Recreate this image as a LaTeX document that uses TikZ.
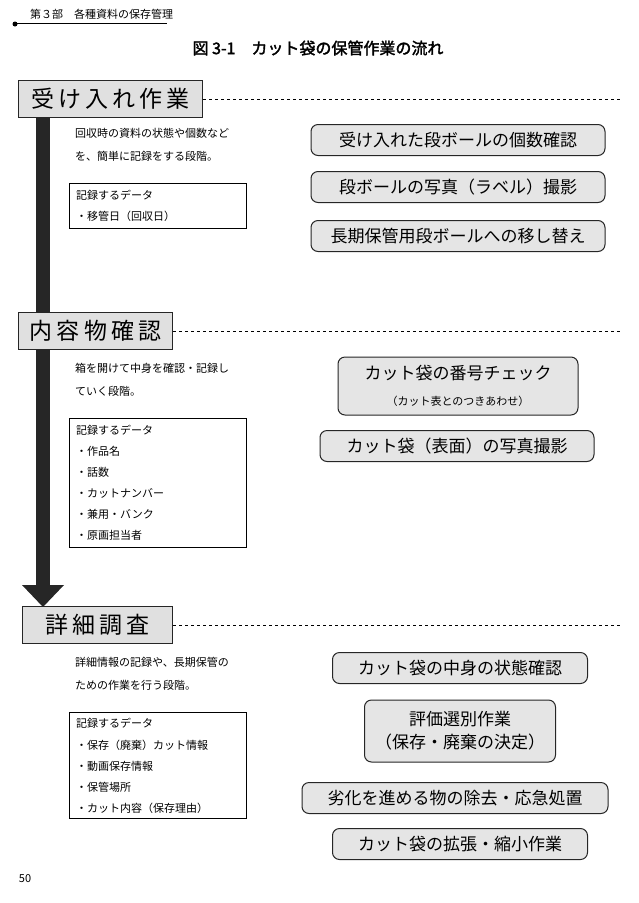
\documentclass[tikz,border=0pt]{standalone}
\usepackage{fontspec}
\setmainfont{Noto Sans CJK JP}
\newfontfamily\jpbold{Noto Sans CJK JP}[FakeBold=2]
\usetikzlibrary{positioning}
\newcommand{\stsp}{\hspace{0.18em}}
\begin{document}
\begin{tikzpicture}[x=1pt,y=-1pt]
\tikzstyle{every node}+=[inner sep=0pt]
\tikzstyle{stage}=[draw=black!85,line width=1.2pt,fill=black!12,font=\fontsize{23}{23}\selectfont,minimum height=37pt,anchor=west]
\tikzstyle{pill}=[draw=black!85,line width=1pt,fill=black!10,rounded corners=7pt,font=\fontsize{17}{17}\selectfont,minimum height=31pt]
\tikzstyle{databox}=[draw=black,line width=0.6pt,minimum width=177pt,anchor=north west]
\tikzstyle{desc}=[font=\fontsize{11}{11}\selectfont,anchor=west]
\tikzstyle{line}=[font=\fontsize{11}{11}\selectfont,anchor=west]
\useasboundingbox (0,0) rectangle (638,903);
% header
\node[font=\fontsize{11}{11}\selectfont,anchor=west] (head) at (30,14) {第３部　各種資料の保存管理};
\draw[line width=0.6pt] (15,23) -- (167,23);
\fill (15,24) circle (2.5);
\node[font=\jpbold\fontsize{16}{16}\selectfont] (title) at (318,48) {図 3-1　カット袋の保管作業の流れ};
% flow bar
\fill[black!85] (36,117) rectangle (50,585);
\fill[black!85] (22,585) -- (64,585) -- (43,607) -- cycle;
% stages
\node[stage,minimum width=184pt] (s1) at (18,99) {受\stsp け\stsp 入\stsp れ\stsp 作\stsp 業};
\node[stage,minimum width=154pt] (s2) at (18,331) {内\stsp 容\stsp 物\stsp 確\stsp 認};
\node[stage,minimum width=150pt] (s3) at (22,625) {詳\stsp 細\stsp 調\stsp 査};
\coordinate (e1) at (620,99);
\coordinate (e2) at (620,331);
\coordinate (e3) at (620,625);
\draw[dashed,line width=0.8pt] (s1.east) -- (e1);
\draw[dashed,line width=0.8pt] (s2.east) -- (e2);
\draw[dashed,line width=0.8pt] (s3.east) -- (e3);
% stage 1
\node[desc] (d1a) at (75,133) {回収時の資料の状態や個数など};
\node[desc] (d1b) at (75,156) {を、簡単に記録をする段階。};
\node[databox,minimum height=45pt] (b1) at (69,183) {};
\node[line] at (76,195) {記録するデータ};
\node[line] at (76,216) {・移管日（回収日）};
\node[pill,minimum width=294pt] (p1) at (458,140) {受け入れた段ボールの個数確認};
\node[pill,minimum width=294pt] (p2) at (458,187) {段ボールの写真（ラベル）撮影};
\node[pill,minimum width=294pt] (p3) at (458,236) {長期保管用段ボールへの移し替え};
% stage 2
\node[desc] (d2a) at (75,368) {箱を開けて中身を確認・記録し};
\node[desc] (d2b) at (75,391) {ていく段階。};
\node[databox,minimum height=129pt] (b2) at (69,418) {};
\node[line] at (76,430) {記録するデータ};
\node[line] at (76,451) {・作品名};
\node[line] at (76,472) {・話数};
\node[line] at (76,493) {・カットナンバー};
\node[line] at (76,514) {・兼用・バンク};
\node[line] at (76,535) {・原画担当者};
\node[pill,minimum width=240pt,minimum height=58pt,align=center] (p4) at (458,386) {カット袋の番号チェック\\[9pt]{\fontsize{11}{11}\selectfont（カット表とのつきあわせ）}};
\node[pill,minimum width=274pt] (p5) at (457,446) {カット袋（表面）の写真撮影};
% stage 3
\node[desc] (d3a) at (75,662) {詳細情報の記録や、長期保管の};
\node[desc] (d3b) at (75,685) {ための作業を行う段階。};
\node[databox,minimum height=106pt] (b3) at (69,712) {};
\node[line] at (76,723) {記録するデータ};
\node[line] at (76,745) {・保存（廃棄）カット情報};
\node[line] at (76,766) {・動画保存情報};
\node[line] at (76,787) {・保管場所};
\node[line] at (76,808) {・カット内容（保存理由）};
\node[pill,minimum width=255pt] (p6) at (460,668) {カット袋の中身の状態確認};
\node[pill,minimum width=191pt,minimum height=62pt,align=center] (p7) at (460,731) {評価選別作業\\[6pt]（保存・廃棄の決定）};
\node[pill,minimum width=306pt] (p8) at (455,798) {劣化を進める物の除去・応急処置};
\node[pill,minimum width=255pt] (p9) at (460,844) {カット袋の拡張・縮小作業};
% page number
\node[font=\fontsize{11}{11}\selectfont] (page) at (25,879) {50};
\end{tikzpicture}
\end{document}
